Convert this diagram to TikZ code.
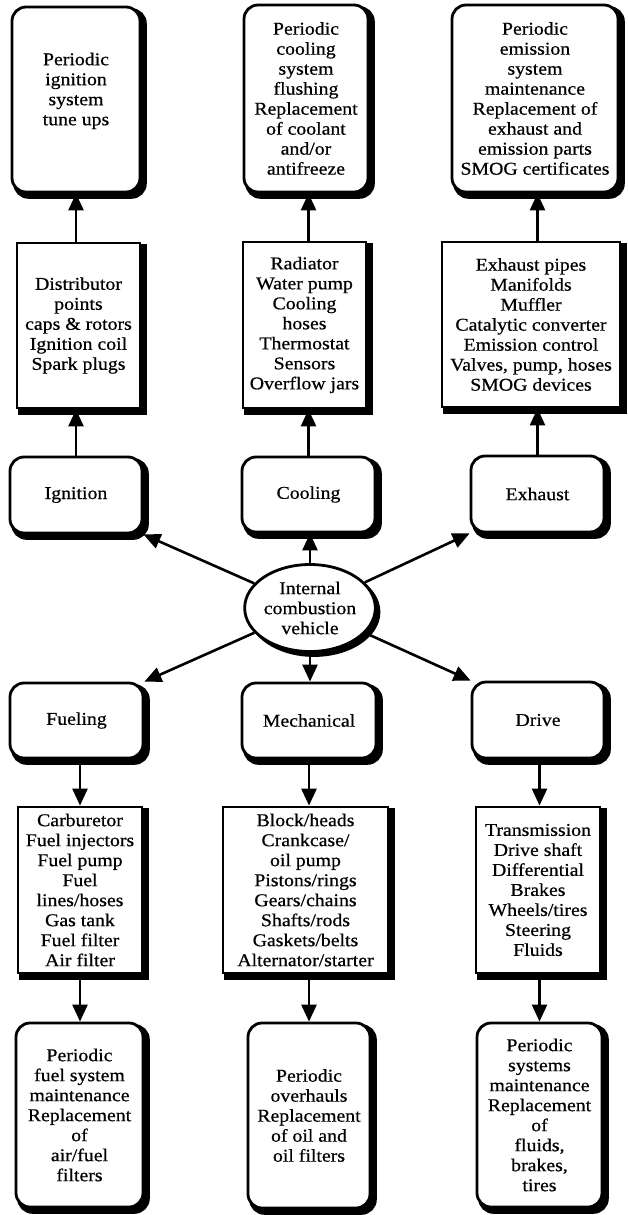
\documentclass[tikz,border=0pt]{standalone}
\usepackage{fontspec}
\setmainfont{Liberation Serif}[FakeStretch=1.1,FakeBold=0.6]
\usetikzlibrary{arrows.meta,shapes.geometric}
\pgfdeclarelayer{shadowlayer}
\pgfsetlayers{shadowlayer,main}
\begin{document}
\begin{tikzpicture}[x=1pt,y=-1pt,
  base/.style={draw, line width=2.8pt, fill=white, align=center, inner sep=0pt,
    font=\fontsize{18}{20}\selectfont},
  rbox/.style={base, rounded corners=14pt},
  sbox/.style={base},
  ebox/.style={base, ellipse},
  shad/.style={fill=black, draw=black, line width=2.8pt},
  arr/.style={line width=2.6pt, -{Triangle[length=17pt,width=15pt]}}]
\useasboundingbox (0,0) rectangle (628,1215);
% top periodic boxes
\node[rbox, minimum width=128pt, minimum height=185pt] (PI) at (76,99.5) {Periodic\\ignition\\system\\tune ups\\[1pt]};
\node[rbox, minimum width=124pt, minimum height=187pt] (PC) at (306,98.5) {Periodic\\cooling\\system\\flushing\\Replacement\\of coolant\\and/or\\antifreeze};
\node[rbox, minimum width=166pt, minimum height=187pt] (PE) at (535,98.5) {Periodic\\emission\\system\\maintenance\\Replacement of\\exhaust and\\emission parts\\SMOG certificates};
% top component boxes
\node[sbox, minimum width=123pt, minimum height=165pt] (CI) at (78.5,325.5) {Distributor\\points\\caps \& rotors\\Ignition coil\\Spark plugs};
\node[sbox, minimum width=123pt, minimum height=166pt] (CC) at (304.5,325) {Radiator\\Water pump\\Cooling\\hoses\\Thermostat\\Sensors\\Overflow jars};
\node[sbox, minimum width=178pt, minimum height=165pt] (CE) at (531,324.5) {Exhaust pipes\\Manifolds\\Muffler\\Catalytic converter\\Emission control\\Valves, pump, hoses\\SMOG devices};
% middle row
\node[rbox, minimum width=132pt, minimum height=76pt] (Ign) at (76,495) {Ignition};
\node[rbox, minimum width=133pt, minimum height=75pt] (Cool) at (308.5,494.5) {Cooling};
\node[rbox, minimum width=133pt, minimum height=76pt] (Exh) at (537.5,494) {Exhaust};
\node[ebox, minimum width=130pt, minimum height=87pt] (ell) at (310,608) {Internal\\combustion\\vehicle};
\node[rbox, minimum width=133pt, minimum height=75pt] (Fuel) at (76.5,720.5) {Fueling};
\node[rbox, minimum width=134pt, minimum height=75pt] (Mech) at (309,720.5) {Mechanical};
\node[rbox, minimum width=132pt, minimum height=76pt] (Drive) at (538,720) {Drive};
% bottom component boxes
\node[sbox, minimum width=124pt, minimum height=166pt] (CF) at (80,890) {Carburetor\\Fuel injectors\\Fuel pump\\Fuel\\lines/hoses\\Gas tank\\Fuel filter\\Air filter};
\node[sbox, minimum width=165pt, minimum height=166pt] (CM) at (305.5,890) {Block/heads\\Crankcase/\\oil pump\\Pistons/rings\\Gears/chains\\Shafts/rods\\Gaskets/belts\\Alternator/starter};
\node[sbox, minimum width=124pt, minimum height=166pt] (CD) at (538,890) {Transmission\\Drive shaft\\Differential\\Brakes\\Wheels/tires\\Steering\\Fluids};
% bottom periodic boxes
\node[rbox, minimum width=127pt, minimum height=184pt] (PF) at (79.5,1115) {Periodic\\fuel system\\maintenance\\Replacement\\of\\air/fuel\\filters};
\node[rbox, minimum width=122pt, minimum height=185pt] (PM) at (309,1115.5) {Periodic\\overhauls\\Replacement\\of oil and\\oil filters};
\node[rbox, minimum width=125pt, minimum height=184pt] (PD) at (539.5,1115) {Periodic\\systems\\maintenance\\Replacement\\of\\fluids,\\brakes,\\tires};
% shadows
\begin{pgfonlayer}{shadowlayer}
\foreach \n in {PI,PC,PE,Ign,Cool,Exh,Fuel,Mech,Drive,PF,PM,PD}
  \path[shad, rounded corners=14pt] ([shift={(4,4)}]\n.north west) rectangle ([shift={(4,4)}]\n.south east);
\foreach \n in {CI,CC,CE,CF,CM,CD}
  \path[shad] ([shift={(4,4)}]\n.north west) rectangle ([shift={(4,4)}]\n.south east);
\path[shad] ([shift={(4,4)}]ell.center) ellipse [x radius=65, y radius=43.5];
\end{pgfonlayer}
% connectors, upper half
\draw[arr] (Ign.north) -- (Ign.north |- CI.south);
\draw[arr] (CI.north -| Ign.north) -- (PI.south -| Ign.north);
\draw[arr] (Cool.north) -- (Cool.north |- CC.south);
\draw[arr] (CC.north -| Cool.north) -- (PC.south -| Cool.north);
\draw[arr] (Exh.north) -- (Exh.north |- CE.south);
\draw[arr] (CE.north -| Exh.north) -- (PE.south -| Exh.north);
% connectors from the ellipse
\draw[arr] (ell) -- (Ign.south east);
\draw[arr] (ell.north) -- (ell.north |- Cool.south);
\draw[arr] (ell) -- (Exh.south west);
\draw[arr] (ell) -- (Fuel.north east);
\draw[arr] (ell.south) -- (ell.south |- Mech.north);
\draw[arr] (ell) -- (Drive.north west);
% connectors, lower half
\draw[arr] (CF.north |- Fuel.south) -- (CF.north);
\draw[arr] (CF.south) -- (CF.south |- PF.north);
\draw[arr] (Mech.south) -- (Mech.south |- CM.north);
\draw[arr] (CM.south -| Mech.south) -- (PM.north -| Mech.south);
\draw[arr] (PD.north |- Drive.south) -- (PD.north |- CD.north);
\draw[arr] (PD.north |- CD.south) -- (PD.north);
\end{tikzpicture}
\end{document}
